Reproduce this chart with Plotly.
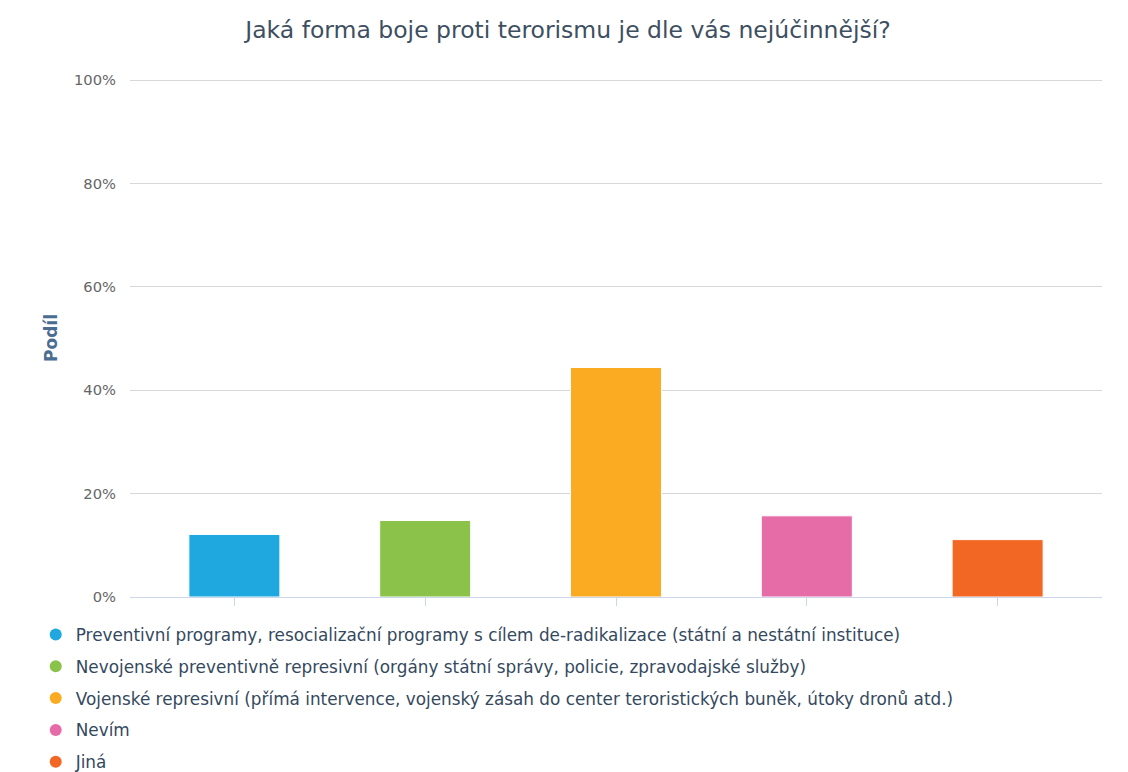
import plotly.graph_objects as go

title = "Jaká forma boje proti terorismu je dle vás nejúčinnější?"
categories = [
    "Preventivní programy, resocializační programy s cílem de-radikalizace (státní a nestátní instituce)",
    "Nevojenské preventivně represivní (orgány státní správy, policie, zpravodajské služby)",
    "Vojenské represivní (přímá intervence, vojenský zásah do center teroristických buněk, útoky dronů atd.)",
    "Nevím",
    "Jiná",
]
values = [12.1, 14.8, 44.4, 15.7, 11.1]
colors = ["#1fa8e0", "#8bc34a", "#fbab22", "#e66ca8", "#f26724"]
y_ticks = [0, 20, 40, 60, 80, 100]
y_ticktext = [f"{v}%" for v in y_ticks]

FONT = "DejaVu Sans"

fig = go.Figure()
fig.add_trace(go.Bar(
    x=list(range(len(categories))), y=values, width=0.477,
    marker=dict(color=colors, line=dict(color="white", width=1)),
    showlegend=False, hovertext=categories, hoverinfo="text+y",
))
for i, (name, c) in enumerate(zip(categories, colors)):
    fig.add_trace(go.Scatter(
        x=[None], y=[None], mode="markers", name=name, legendgroup=f"g{i}",
        marker=dict(color=c, size=12, symbol="circle"),
    ))

fig.update_layout(
    width=1128, height=772,
    margin=dict(l=122, r=34, t=71, b=183, autoexpand=False),
    paper_bgcolor="white", plot_bgcolor="white",
    title=dict(text=title, x=560 / 1128, xref="container", xanchor="center",
               y=1 - 22 / 772, yref="container", yanchor="middle",
               font=dict(family=FONT, size=23.5, color="#3d4f61")),
    font=dict(family=FONT),
    showlegend=True,
    legend=dict(orientation="v", x=-0.097, xanchor="left", y=-0.0387, yanchor="top",
                font=dict(family=FONT, size=16.85, color="#34495e"),
                tracegroupgap=6.9, itemwidth=30, bgcolor="rgba(0,0,0,0)"),
)
fig.update_xaxes(
    range=[-0.547, 4.547], showgrid=False, zeroline=False,
    showline=True, linecolor="#ccd6eb", linewidth=1,
    ticks="outside", ticklen=8, tickcolor="#ccd6eb",
    tickvals=list(range(len(categories))), showticklabels=False,
)
fig.update_yaxes(
    range=[0, 100.2], tickvals=y_ticks, ticktext=y_ticktext,
    showgrid=True, gridcolor="#d8d8d8", gridwidth=1, zeroline=False, showline=False,
    tickfont=dict(family=FONT, size=14.7, color="#666666"),
    ticks="", ticklabelstandoff=13,
    title=dict(text="<b>Podíl</b>", standoff=12,
               font=dict(family=FONT, size=17, color="#4a6d91")),
)

fig.write_html("out.html")
